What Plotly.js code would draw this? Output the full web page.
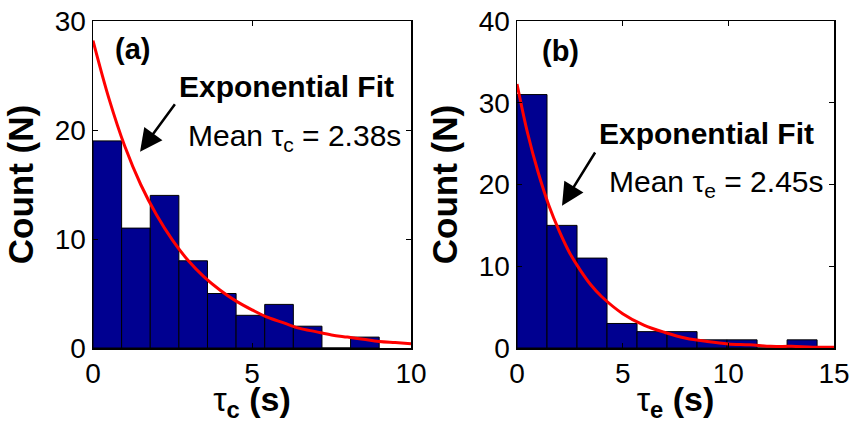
<!DOCTYPE html>
<html><head><meta charset="utf-8">
<script src="https://cdn.plot.ly/plotly-3.0.1.min.js"></script>
<style>html,body{margin:0;padding:0;background:#fff}#chart{width:854px;height:423px}</style>
</head><body><div id="chart"></div>
<script>
// Panel (a): tau_c histogram
const binsA = [0.45, 1.35, 2.25, 3.15, 4.05, 4.95, 5.85, 6.75, 7.65, 8.55];
const countsA = [19, 11, 14, 8, 5, 3, 4, 2, 0, 1];
const fitXA = [0, 0.5, 1, 1.5, 2, 2.5, 3, 3.5, 4, 4.5, 5, 5.5, 6, 6.5, 7, 7.5, 8, 8.5, 9, 9.5, 10];
const fitYA = [28.2, 22.9, 18.5, 15.0, 12.2, 9.9, 8.0, 6.5, 5.3, 4.3, 3.5, 2.8, 2.3, 1.8, 1.5, 1.2, 1.0, 0.8, 0.6, 0.5, 0.4];
// Panel (b): tau_e histogram
const binsB = [0.71, 2.13, 3.55, 4.97, 6.39, 7.81, 9.23, 10.65, 12.07, 13.49];
const countsB = [31, 15, 11, 3, 2, 2, 1, 1, 0, 1];
const fitXB = [0, 0.5, 1, 1.5, 2, 2.5, 3, 3.5, 4, 5, 6, 7, 8, 9, 10, 11, 12, 13, 14, 15];
const fitYB = [32.3, 26.3, 21.5, 17.5, 14.3, 11.6, 9.5, 7.7, 6.3, 4.2, 2.8, 1.9, 1.2, 0.8, 0.5, 0.4, 0.2, 0.2, 0.1, 0.1];
const ticksXA = [0, 5, 10];
const ticksYA = [0, 10, 20, 30];
const ticksXB = [0, 5, 10, 15];
const ticksYB = [0, 10, 20, 30, 40];

const barColor = '#000090';
const FONT = 'Liberation Sans, Arial, sans-serif';

const traces = [
  {type:'bar', x:binsA, y:countsA, width:0.9, xaxis:'x', yaxis:'y',
   marker:{color:barColor, line:{color:'#000', width:1}}, hoverinfo:'skip'},
  {type:'scatter', mode:'lines', x:fitXA, y:fitYA, xaxis:'x', yaxis:'y',
   line:{color:'#ff0000', width:3, shape:'spline'}},
  {type:'bar', x:binsB, y:countsB, width:1.42, xaxis:'x2', yaxis:'y2',
   marker:{color:barColor, line:{color:'#000', width:1}}, hoverinfo:'skip'},
  {type:'scatter', mode:'lines', x:fitXB, y:fitYB, xaxis:'x2', yaxis:'y2',
   line:{color:'#ff0000', width:3, shape:'spline'}}
];

function axisBase(){
  return {showline:true, linecolor:'#000', linewidth:1.5, mirror:'ticks',
    ticks:'inside', ticklen:5, tickcolor:'#000', showgrid:false, zeroline:false,
    tickfont:{family:FONT, size:28, color:'#000'}, fixedrange:true};
}
const titleFont = {family:FONT, size:35, color:'#000', weight:'bold'};
const xTitleFont = {family:FONT, size:34, color:'#000', weight:'bold'};
const xa = Object.assign(axisBase(), {domain:[93/854, 411/854], range:[0,10], tickvals:ticksXA, anchor:'y',
  title:{text:'<span style="font-weight:normal">τ</span><sub>c</sub> (s)', font:xTitleFont, standoff:0}});
const ya = Object.assign(axisBase(), {domain:[0,1], range:[0,30], tickvals:ticksYA, anchor:'x',
  title:{text:'Count (N)', font:titleFont, standoff:10}});
const xb = Object.assign(axisBase(), {domain:[517/854, 834/854], range:[0,15], tickvals:ticksXB, anchor:'y2',
  title:{text:'<span style="font-weight:normal">τ</span><sub>e</sub> (s)', font:xTitleFont, standoff:0}});
const yb = Object.assign(axisBase(), {domain:[0,1], range:[0,40], tickvals:ticksYB, anchor:'x2',
  title:{text:'Count (N)', font:titleFont, standoff:10}});

const bold = (s)=>'<b>'+s+'</b>';
const annotations = [
  {xref:'x', yref:'y', x:0.63, y:27.4, xanchor:'left', yanchor:'middle', showarrow:false,
   text:bold('(a)'), font:{family:FONT, size:29, color:'#000'}},
  {xref:'x', yref:'y', x:2.64, y:24.0, xanchor:'left', yanchor:'middle', showarrow:false,
   text:bold('Exponential Fit'), font:{family:FONT, size:30, color:'#000'}},
  {xref:'x', yref:'y', x:2.92, y:19.3, xanchor:'left', yanchor:'middle', showarrow:false,
   text:'Mean τ<sub>c</sub> = 2.38s', font:{family:FONT, size:30, color:'#000'}},
  {xref:'x', yref:'y', x:1.48, y:18.0, axref:'x', ayref:'y', ax:2.61, ay:22.5, text:'',
   showarrow:true, arrowhead:2, arrowsize:1.8, arrowwidth:2.5, arrowcolor:'#000'},

  {xref:'x2', yref:'y2', x:1.09, y:36.3, xanchor:'left', yanchor:'middle', showarrow:false,
   text:bold('(b)'), font:{family:FONT, size:29, color:'#000'}},
  {xref:'x2', yref:'y2', x:3.79, y:26.3, xanchor:'left', yanchor:'middle', showarrow:false,
   text:bold('Exponential Fit'), font:{family:FONT, size:30, color:'#000'}},
  {xref:'x2', yref:'y2', x:4.26, y:20.1, xanchor:'left', yanchor:'middle', showarrow:false,
   text:'Mean τ<sub>e</sub> = 2.45s', font:{family:FONT, size:30, color:'#000'}},
  {xref:'x2', yref:'y2', x:2.13, y:17.4, axref:'x2', ayref:'y2', ax:3.74, ay:24.1, text:'',
   showarrow:true, arrowhead:2, arrowsize:1.8, arrowwidth:2.5, arrowcolor:'#000'}
];

const layout = {
  width:854, height:423, margin:{l:0, r:0, t:21, b:75},
  paper_bgcolor:'#fff', plot_bgcolor:'#fff', showlegend:false, bargap:0,
  font:{family:FONT, color:'#000'},
  xaxis:xa, yaxis:ya, xaxis2:xb, yaxis2:yb, annotations:annotations
};
Plotly.newPlot('chart', traces, layout, {staticPlot:true, displayModeBar:false});
</script></body></html>
